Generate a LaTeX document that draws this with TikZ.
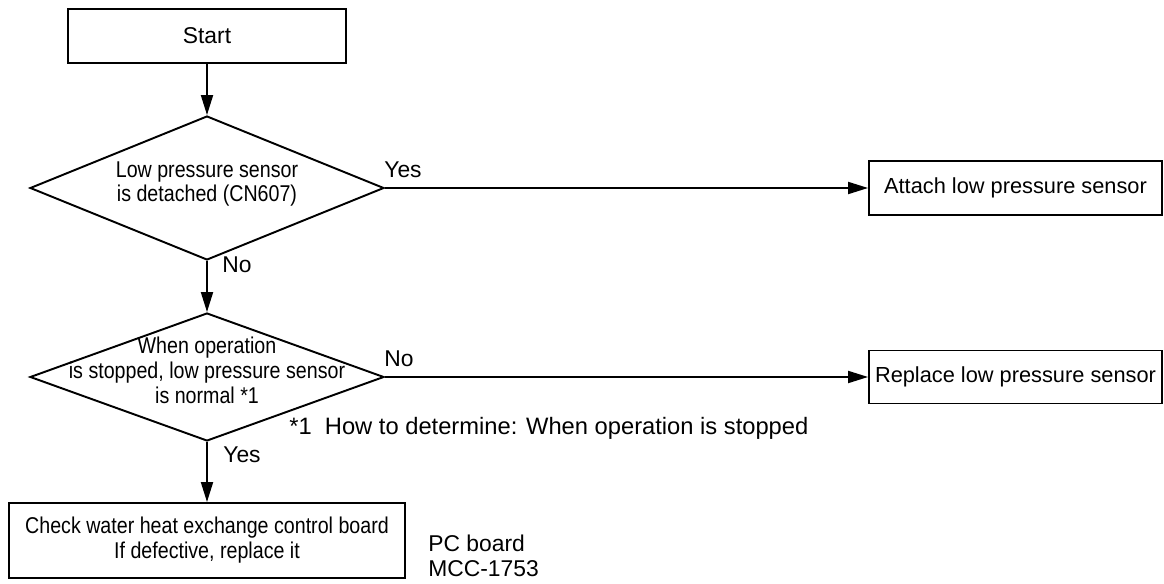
\documentclass[tikz,border=0pt]{standalone}
\usepackage{fontspec}
\setmainfont{Liberation Sans}
\newfontfamily\narrowsf[FakeStretch=0.86]{Liberation Sans}
\usetikzlibrary{shapes.geometric,arrows.meta,positioning}
\tikzset
{
    process/.style  = {rectangle, draw=black, line width=1.1pt, align=center, inner sep=0pt},
    action/.style   = {process, minimum width=5.86cm, font=\fontsize{12.4}{15}\selectfont},
    decision/.style = {diamond, draw=black, line width=1.1pt, minimum width=7.08cm, inner sep=0pt},
    question/.style = {align=center, font=\narrowsf\fontsize{13}{14.2}\selectfont},
    answer/.style   = {anchor=base west, inner sep=0pt},
    arrow/.style    = {line width=1.1pt, -{Triangle[length=0.4cm, width=0.24cm]}}
}

\begin{document}
\begin{tikzpicture}[x=0.02cm, y=-0.02cm, font=\fontsize{13}{15}\selectfont]
\useasboundingbox (0,0) rectangle (1164,584);
\newcommand\colX{207}
% main column
\node(start) [process, minimum width=5.56cm, minimum height=1.08cm] at (\colX, 36) {Start};
\node(q1) [decision, minimum height=2.88cm] at (\colX, 188) {};
\node(q1text) [question] at (\colX, 184) {Low pressure sensor\\is detached (CN607)};
\node(q2) [decision, minimum height=2.56cm] at (\colX, 377) {};
\node(q2text) [question] at (\colX, 370) {When operation\\is stopped, low pressure sensor\\is normal *1};
\node(check) [process, question, minimum width=7.92cm, minimum height=1.5cm] at (\colX, 540.5) {Check water heat exchange control board\\If defective, replace it};
% actions on the right
\node(attach) [action, minimum height=1.08cm] at (1015.5, 188) {Attach low pressure sensor};
\node(replace) [action, minimum height=1.06cm] at (1015.5, 377) {Replace low pressure sensor};
% branch labels and notes
\node(yes1) [answer] at (384, 178) {Yes};
\node(no1) [answer] at (222, 273) {No};
\node(no2) [answer] at (384, 367) {No};
\node(yes2) [answer] at (223, 462) {Yes};
\node(note) [answer, font=\fontsize{13.5}{15}\selectfont] at (289, 435) {*1\ \ How to determine: When operation is stopped};
\node(pcb) [answer] at (428, 551) {PC board};
\node(pcbcode) [answer] at (428, 576) {MCC-1753};
\draw[arrow] (start) -- (q1);
\draw[arrow] (q1) -- (q2);
\draw[arrow] (q2) -- (check);
\draw[arrow] (q1) -- (attach);
\draw[arrow] (q2) -- (replace);
\end{tikzpicture}
\end{document}
